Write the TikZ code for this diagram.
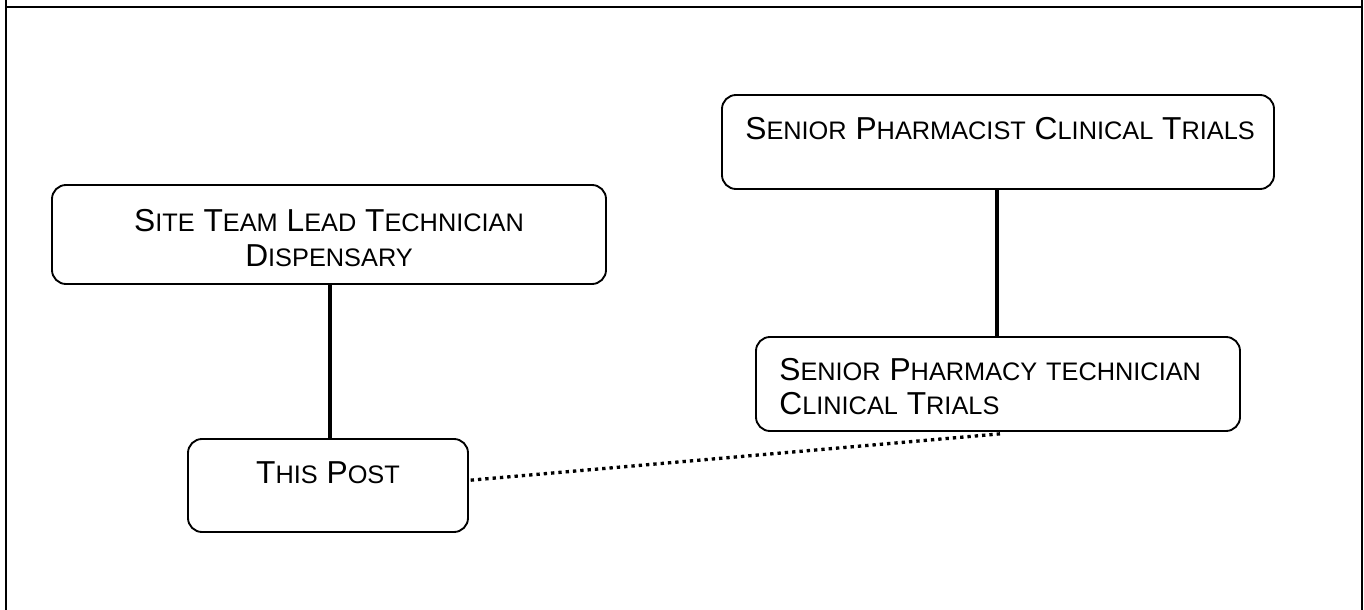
\documentclass[tikz,border=0pt]{standalone}
\usepackage{fontspec}
\setmainfont{Liberation Sans}
\newcommand\bigsz{\fontsize{23.8pt}{26pt}\selectfont}
\newcommand\scsz{\fontsize{19pt}{26pt}\selectfont}
\newcommand\SC[2]{#1{\scsz #2}}
\tikzset{
  orgbox/.style={draw, line width=1.4pt, rounded corners=10.5pt, inner sep=0pt, outer sep=0pt, font=\bigsz},
  solidlink/.style={line width=2.6pt},
  dotlink/.style={line width=2.5pt, dash pattern=on 2.5pt off 3pt},
  frameline/.style={line width=0.9pt}
}
\begin{document}
\begin{tikzpicture}[x=0.75pt,y=-0.75pt]
\useasboundingbox (0,0) rectangle (1364,610);
% frame
\draw[frameline] (6,0) -- (6,610);
\draw[frameline] (1362,0) -- (1362,610);
\draw[line width=1.7pt] (6,7) -- (1362,7);
% boxes
\node[orgbox] (b1) at (329,234.5) {\parbox[c][74.25pt][t]{415.5pt}{\centering\rule{0pt}{35pt}\SC{S}{ITE} \SC{T}{EAM} \SC{L}{EAD} \SC{T}{ECHNICIAN}\\ \SC{D}{ISPENSARY}}};
\node[orgbox] (b2) at (998,142) {\parbox[c][70.5pt][t]{414pt}{\leftskip=17.5pt\relax\rule{0pt}{33.5pt}\SC{S}{ENIOR} \SC{P}{HARMACIST} \SC{C}{LINICAL} \SC{T}{RIALS}}};
\node[orgbox] (b3) at (998,384) {\parbox[c][70.5pt][t]{363pt}{\fontsize{23.8pt}{25.5pt}\selectfont\leftskip=17.5pt\relax\rule{0pt}{32.5pt}\SC{S}{ENIOR} \SC{P}{HARMACY} {\scsz TECHNICIAN}\\ \SC{C}{LINICAL} \SC{T}{RIALS}}};
\node[orgbox] (b4) at (328,485.5) {\parbox[c][69.75pt][t]{210pt}{\centering\rule{0pt}{33.5pt}\SC{T}{HIS} \SC{P}{OST}}};
% connectors
\draw[solidlink] ([xshift=0.75pt]b1.south) -- ([xshift=0.75pt]b1.south |- b4.north);
\draw[solidlink] ([xshift=-0.75pt]b2.south) -- ([xshift=-0.75pt]b2.south |- b3.north);
\draw[dotlink] ([xshift=2pt,yshift=4pt]b4.east) -- ([xshift=3pt,yshift=-2pt]b3.south);
\end{tikzpicture}
\end{document}
